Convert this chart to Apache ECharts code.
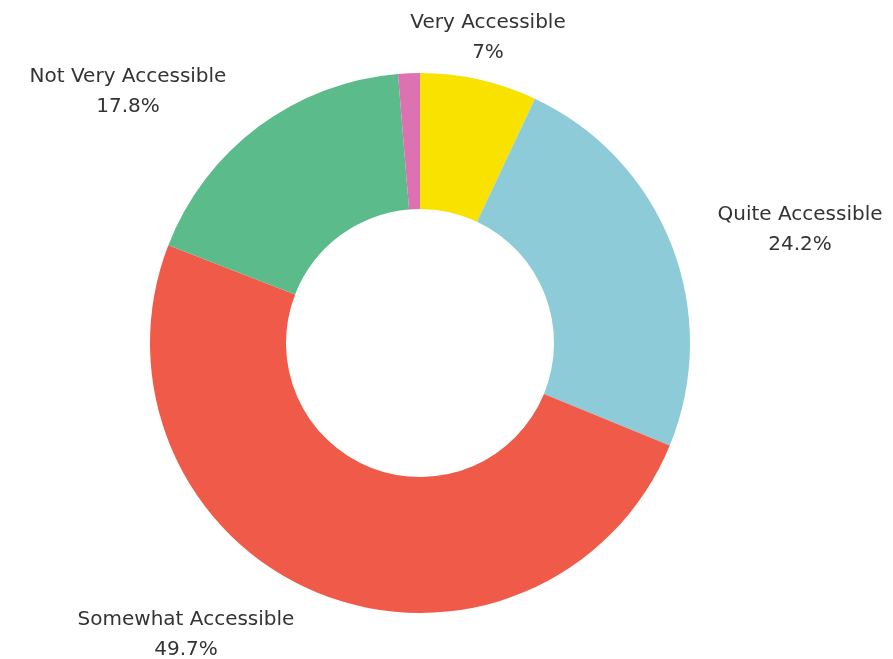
<!DOCTYPE html>
<html>
<head>
<meta charset="utf-8">
<title>Accessibility</title>
<script src="https://cdn.jsdelivr.net/npm/echarts@6/dist/echarts.min.js"></script>
<style>
  html, body { margin: 0; padding: 0; background: #fff; }
  #main { width: 893px; height: 659px; }
</style>
</head>
<body>
<div id="main"></div>
<script>
// 数据
var categories = ['Very Accessible', 'Quite Accessible', 'Somewhat Accessible', 'Not Very Accessible', 'Other']
var values = [7, 24.2, 49.7, 17.8, 1.3]
var colors = ['#f9e200', '#8ecbd8', '#f05a48', '#5bbb8a', '#dc72b2']

// label centres, by slice (same order as categories)
var labelPos = [[488, 38], [800, 230], [186, 635], [128, 92]]

var myChart = echarts.init(document.getElementById('main'))
var option = {
  color: colors,
  series: [
    {
      type: 'pie',
      center: [420, 343],
      radius: [134, 270],
      startAngle: 90,
      clockwise: true,
      avoidLabelOverlap: false,
      label: {
        show: true,
        position: 'outside',
        formatter: '{b}\n{c}%',
        fontFamily: 'DejaVu Sans',
        fontSize: 20,
        lineHeight: 30,
        color: '#333',
        align: 'center'
      },
      labelLine: { show: false },
      labelLayout: function (params) {
        var p = labelPos[params.dataIndex]
        if (!p) return {}
        return { x: p[0], y: p[1], align: 'center', verticalAlign: 'middle' }
      },
      emphasis: { disabled: true },
      data: categories.map(function (name, i) {
        var item = { name: name, value: values[i] }
        if (i === 4) item.label = { show: false }
        return item
      })
    }
  ]
}
myChart.setOption(option)
</script>
</body>
</html>
